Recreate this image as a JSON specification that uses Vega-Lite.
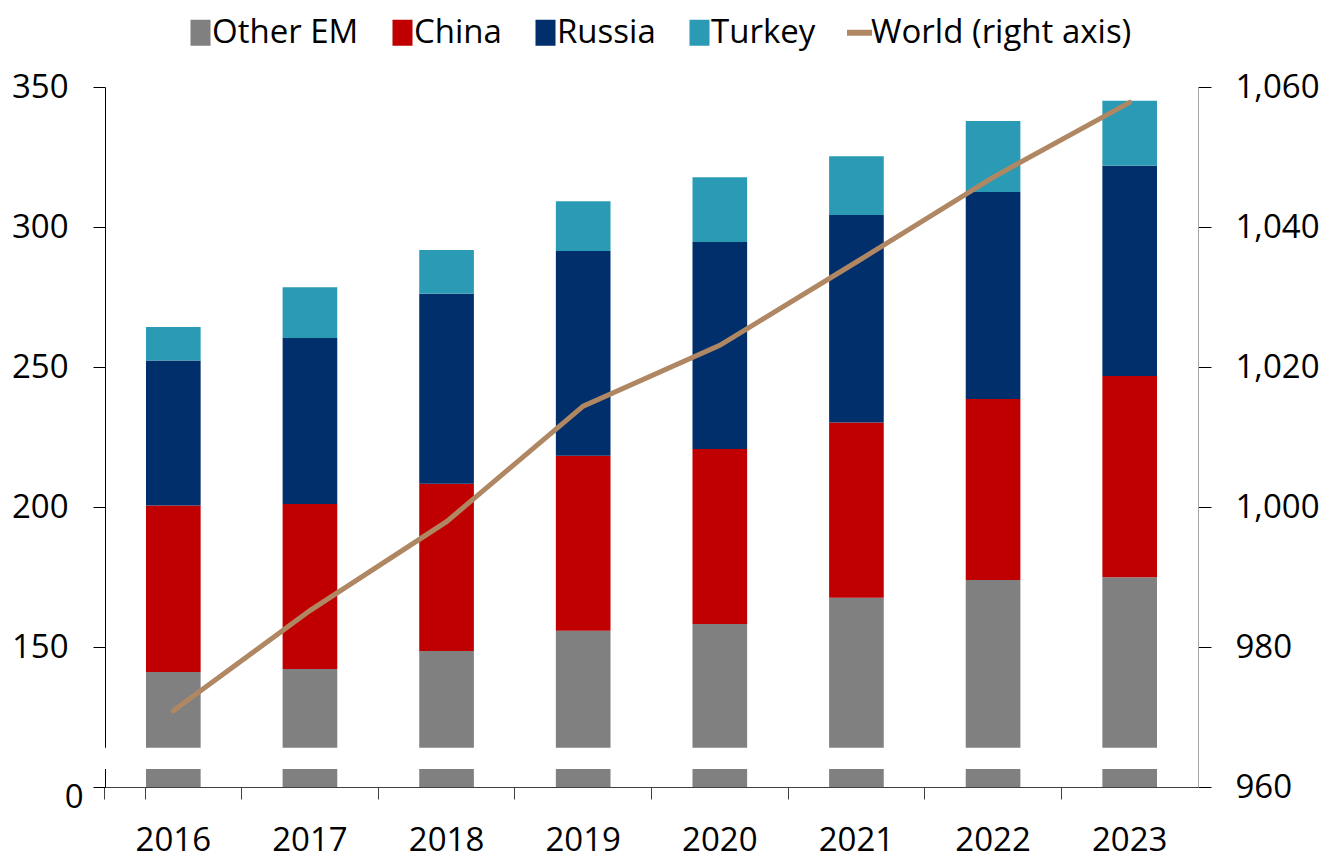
{
  "$schema": "https://vega.github.io/schema/vega-lite/v6.json",
  "width": 1093,
  "height": 700,
  "autosize": {"type": "none"},
  "padding": {"left": 105, "top": 87, "right": 134, "bottom": 79},
  "background": "white",
  "config": {
    "view": {"stroke": null},
    "font": "Open Sans",
    "axis": {"labelFont": "Open Sans", "labelFontSize": 33, "labelColor": "black", "grid": false, "title": null}
  },
  "datasets": {
    "bars": [
      {"year": "2016", "series": "Other EM", "value": 141.1},
      {"year": "2016", "series": "China", "value": 59.4},
      {"year": "2016", "series": "Russia", "value": 51.8},
      {"year": "2016", "series": "Turkey", "value": 12.0},
      {"year": "2017", "series": "Other EM", "value": 142.1},
      {"year": "2017", "series": "China", "value": 59.0},
      {"year": "2017", "series": "Russia", "value": 59.3},
      {"year": "2017", "series": "Turkey", "value": 18.1},
      {"year": "2018", "series": "Other EM", "value": 148.6},
      {"year": "2018", "series": "China", "value": 59.7},
      {"year": "2018", "series": "Russia", "value": 67.9},
      {"year": "2018", "series": "Turkey", "value": 15.6},
      {"year": "2019", "series": "Other EM", "value": 155.8},
      {"year": "2019", "series": "China", "value": 62.5},
      {"year": "2019", "series": "Russia", "value": 73.1},
      {"year": "2019", "series": "Turkey", "value": 17.8},
      {"year": "2020", "series": "Other EM", "value": 158.2},
      {"year": "2020", "series": "China", "value": 62.5},
      {"year": "2020", "series": "Russia", "value": 73.9},
      {"year": "2020", "series": "Turkey", "value": 23.2},
      {"year": "2021", "series": "Other EM", "value": 167.6},
      {"year": "2021", "series": "China", "value": 62.6},
      {"year": "2021", "series": "Russia", "value": 74.1},
      {"year": "2021", "series": "Turkey", "value": 21.0},
      {"year": "2022", "series": "Other EM", "value": 173.9},
      {"year": "2022", "series": "China", "value": 64.7},
      {"year": "2022", "series": "Russia", "value": 73.9},
      {"year": "2022", "series": "Turkey", "value": 25.4},
      {"year": "2023", "series": "Other EM", "value": 174.9},
      {"year": "2023", "series": "China", "value": 71.9},
      {"year": "2023", "series": "Russia", "value": 75.1},
      {"year": "2023", "series": "Turkey", "value": 23.2}
    ],
    "world": [
      {"year": "2016", "world": 970.9},
      {"year": "2017", "world": 985.2},
      {"year": "2018", "world": 997.9},
      {"year": "2019", "world": 1014.4},
      {"year": "2020", "world": 1023.1},
      {"year": "2021", "world": 1035.0},
      {"year": "2022", "world": 1047.1},
      {"year": "2023", "world": 1057.8}
    ]
  },
  "layer": [
    {
      "layer": [
        {
          "data": {"name": "bars"},
          "transform": [
            {"calculate": "indexof(['Other EM', 'China', 'Russia', 'Turkey'], datum.series)", "as": "stack_rank"}
          ],
          "mark": {"type": "bar"},
          "encoding": {
            "x": {
              "field": "year", "type": "ordinal",
              "scale": {"paddingInner": 0.6, "paddingOuter": 0.3},
              "axis": {"labelAngle": 0, "bandPosition": -0.75, "tickExtra": true, "tickSize": 12, "labelPadding": 25,
                       "domainColor": "#404040", "tickColor": "#404040"}
            },
            "y": {
              "field": "value", "type": "quantitative", "stack": "zero",
              "scale": {"domain": [100, 350], "clamp": true, "zero": false, "nice": false},
              "axis": {
                "orient": "left", "values": [100, 150, 200, 250, 300, 350],
                "labelExpr": "datum.value === 100 ? '0' : datum.label",
                "tickSize": 12, "domainColor": "black", "tickColor": "black",
                "labelPadding": {"condition": {"test": "datum.value === 100", "value": 10}, "value": 25},
                "labelOffset": {"condition": {"test": "datum.value === 100", "value": 10}, "value": 0}
              }
            },
            "order": {"field": "stack_rank", "type": "quantitative", "sort": "ascending"},
            "color": {
              "field": "series", "type": "nominal",
              "scale": {
                "domain": ["Other EM", "China", "Russia", "Turkey", "World (right axis)"],
                "range": ["#808080", "#C00000", "#002F6C", "#2B9BB5", "#B08763"]
              },
              "legend": {
                "orient": "none", "legendX": 79, "legendY": -71, "direction": "horizontal",
                "title": null, "labelFont": "Open Sans", "labelFontSize": 33, "labelColor": "black",
                "labelLimit": 400, "symbolSize": 676, "symbolStrokeWidth": 0, "symbolOpacity": 1,
                "labelOffset": -5, "columnPadding": 27, "padding": 0,
                "encode": {"symbols": {"update": {"shape": {
                  "signal": "datum.value === 'World (right axis)' ? 'M-0.96,-0.23H0.96V0.23H-0.96Z' : 'M-0.77,-1H0.77V1H-0.77Z'"
                }}}}
              }
            }
          }
        },
        {
          "data": {"values": [{}]},
          "mark": {"type": "rect", "color": "white"},
          "encoding": {
            "y": {"datum": 106.4, "type": "quantitative"},
            "y2": {"datum": 114.0}
          }
        }
      ]
    },
    {
      "data": {"name": "world"},
      "mark": {"type": "line", "color": "#B08763", "strokeWidth": 5, "strokeCap": "round"},
      "encoding": {
        "x": {"field": "year", "type": "ordinal"},
        "y": {
          "field": "world", "type": "quantitative",
          "scale": {"domain": [960, 1060], "zero": false, "nice": false},
          "axis": {
            "orient": "right", "values": [960, 980, 1000, 1020, 1040, 1060], "format": ",d",
            "tickSize": 13, "labelPadding": 24, "domainColor": "#A6A6A6", "tickColor": "black", "zindex": 1
          }
        }
      }
    }
  ],
  "resolve": {"scale": {"y": "independent"}}
}
